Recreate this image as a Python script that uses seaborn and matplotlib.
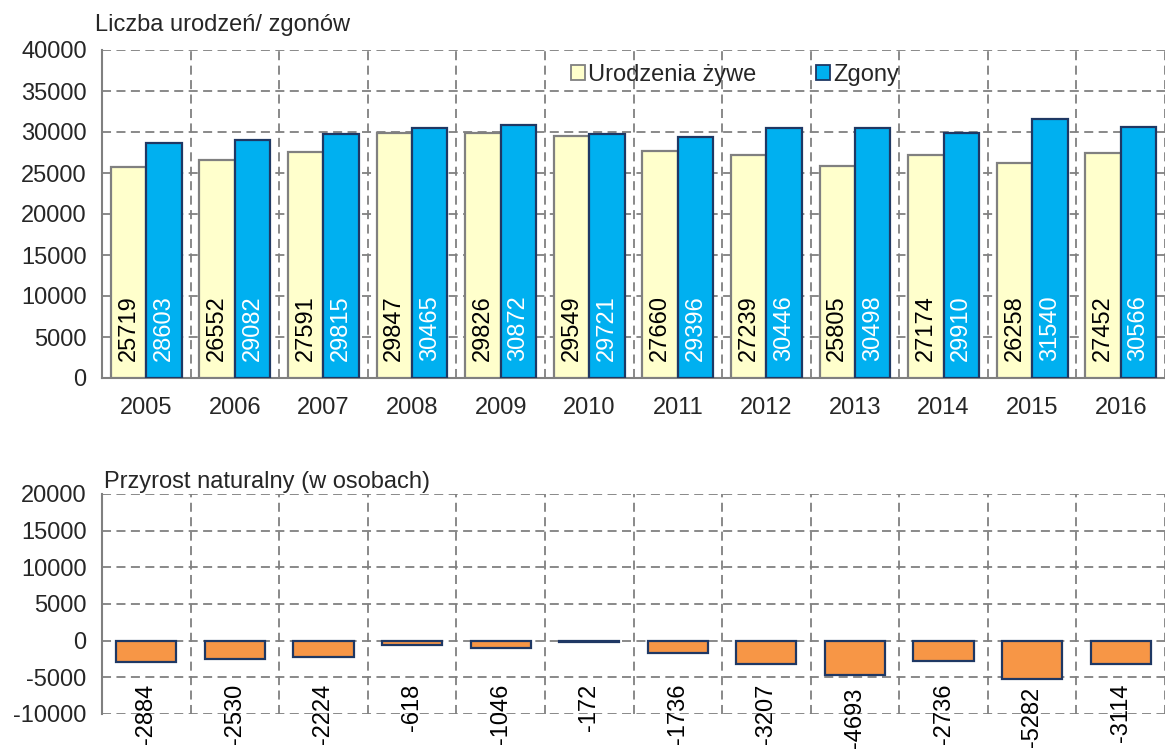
import matplotlib
matplotlib.use("Agg")
import matplotlib.pyplot as plt
from matplotlib.patches import Patch
import seaborn as sns
import pandas as pd
import numpy as np

years = ["2005", "2006", "2007", "2008", "2009", "2010", "2011", "2012", "2013", "2014", "2015", "2016"]
births = [25719, 26552, 27591, 29847, 29826, 29549, 27660, 27239, 25805, 27174, 26258, 27452]
deaths = [28603, 29082, 29815, 30465, 30872, 29721, 29396, 30446, 30498, 29910, 31540, 30566]
growth = [-2884, -2530, -2224, -618, -1046, -172, -1736, -3207, -4693, -2736, -5282, -3114]
series_names = ["Urodzenia żywe", "Zgony"]
top_yticks = [0, 5000, 10000, 15000, 20000, 25000, 30000, 35000, 40000]
bot_yticks = [-10000, -5000, 0, 5000, 10000, 15000, 20000]

sns.set_theme(style="white")
plt.rcParams['font.family'] = ['Liberation Sans', 'DejaVu Sans']

YELLOW = "#FFFFCC"
BLUE = "#00B0F0"
ORANGE = "#F79646"
NAVY = "#1F3864"
GRAY = "#808080"
FS = 17

fig = plt.figure(figsize=(11.65, 7.51), dpi=100)
W, H = 1165, 751
def rect(l, t, r, b):
    return [l / W, 1 - b / H, (r - l) / W, (b - t) / H]

ax1 = fig.add_axes(rect(102, 50, 1165, 378))
ax2 = fig.add_axes(rect(102, 494, 1165, 714))

df = pd.DataFrame({
    "year": years * 2,
    "value": births + deaths,
    "series": [series_names[0]] * len(years) + [series_names[1]] * len(years),
})
sns.barplot(data=df, x="year", y="value", hue="series", order=years,
            hue_order=series_names, palette=[YELLOW, BLUE], width=0.8,
            ax=ax1, legend=False, saturation=1, zorder=3)
edges = [GRAY, NAVY]
txtc = ["black", "white"]
for i, cont in enumerate(ax1.containers):
    for p in cont:
        p.set_edgecolor(edges[i])
        p.set_linewidth(1.6)
        x = p.get_x() + p.get_width() / 2
        val = p.get_height()
        ax1.text(x, 2100, f"{int(round(val))}", rotation=90, ha="center", va="bottom",
                 fontsize=FS, color=txtc[i], zorder=5)

dash = (0, (5, 3))
n = len(years)
bounds = np.arange(-0.5, n + 0.5, 1.0)

def style_axes(ax, yt, ylim):
    ax.set_ylim(*ylim)
    ax.set_xlim(-0.5, n - 0.56)
    ax.set_yticks(yt)
    ax.set_yticklabels([str(v) for v in yt], fontsize=FS)
    ax.set_xticks(bounds)
    ax.set_xticklabels([])
    ax.grid(True, axis="both", color=GRAY, linestyle=dash, linewidth=1.3, zorder=0)
    ax.set_axisbelow(True)
    for s in ["top", "right"]:
        ax.spines[s].set_visible(False)
    ax.spines["left"].set_color(GRAY)
    ax.spines["left"].set_linewidth(1.5)
    ax.spines["bottom"].set_color(GRAY)
    ax.spines["bottom"].set_linewidth(1.5)
    ax.tick_params(axis="y", direction="out", length=6, width=1.3, color=GRAY, pad=5, labelsize=FS)
    ax.tick_params(axis="x", which="major", direction="inout", length=10, width=1.3, color=GRAY)
    ax.set_xlabel("")
    ax.set_ylabel("")

style_axes(ax1, top_yticks, (0, 40000))
ax1.set_xticks(np.arange(n), minor=True)
ax1.set_xticklabels(years, minor=True, fontsize=FS)
ax1.tick_params(axis="x", which="minor", length=0, pad=14)

ax1.text(-0.58, 41700, "Liczba urodzeń/ zgonów", fontsize=FS, ha="left", va="bottom")

handles = [Patch(facecolor=YELLOW, edgecolor=GRAY, linewidth=1.3),
           Patch(facecolor=BLUE, edgecolor=NAVY, linewidth=1.3)]
ax1.legend(handles, series_names, loc="center left", bbox_to_anchor=(0.432, 0.925),
           ncol=2, frameon=False, fontsize=FS, handlelength=0.6, handleheight=0.6,
           handletextpad=0.15, columnspacing=2.5, borderaxespad=0)

# Bottom chart
dfg = pd.DataFrame({"year": years, "value": growth})
sns.barplot(data=dfg, x="year", y="value", order=years, color=ORANGE, width=0.68,
            ax=ax2, saturation=1, zorder=3)
for p in ax2.patches:
    p.set_edgecolor(NAVY)
    p.set_linewidth(1.6)
style_axes(ax2, bot_yticks, (-10000, 20000))
ax2.spines["bottom"].set_position(("data", 0))
ax2.spines["bottom"].set_visible(False)
for i, v in enumerate(growth):
    ax2.text(i, max(min(v - 2400, -5900), -6350), f"{v}", rotation=90, ha="center", va="top",
             fontsize=FS, color="black", zorder=5)
ax2.text(-0.48, 20100, "Przyrost naturalny (w osobach)", fontsize=FS, ha="left", va="bottom")

fig.savefig("out.png", dpi=100)
